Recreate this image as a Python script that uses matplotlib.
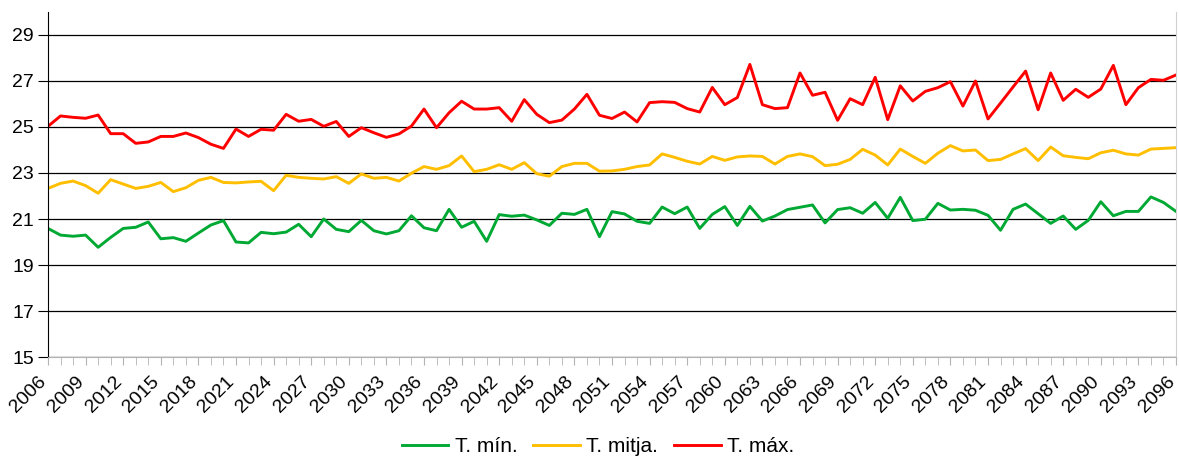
import matplotlib
matplotlib.use('Agg')
import matplotlib.pyplot as plt
import matplotlib.transforms as mtransforms
import numpy as np

plt.rcParams['font.family'] = ['Liberation Sans', 'DejaVu Sans']

# ---- data -------------------------------------------------------------
YEARS = list(range(2006, 2097))

T_MIN = [20.59, 20.30, 20.25, 20.30, 19.77, 20.20, 20.59, 20.64, 20.87, 20.14,
         20.19, 20.03, 20.39, 20.74, 20.93, 20.00, 19.96, 20.42, 20.36, 20.43,
         20.77, 20.23, 21.00, 20.55, 20.45, 20.94, 20.49, 20.35, 20.49, 21.14,
         20.62, 20.49, 21.42, 20.64, 20.90, 20.03, 21.19, 21.12, 21.17, 20.96,
         20.72, 21.25, 21.20, 21.42, 20.23, 21.32, 21.22, 20.90, 20.81, 21.52,
         21.23, 21.52, 20.59, 21.20, 21.54, 20.72, 21.55, 20.91, 21.13, 21.41,
         21.51, 21.61, 20.83, 21.41, 21.49, 21.25, 21.72, 21.03, 21.94, 20.93,
         20.99, 21.68, 21.39, 21.42, 21.38, 21.16, 20.51, 21.42, 21.65, 21.23,
         20.81, 21.13, 20.55, 20.94, 21.75, 21.14, 21.33, 21.33, 21.96, 21.72,
         21.33]

T_MITJA = [22.33, 22.55, 22.65, 22.45, 22.12, 22.71, 22.52, 22.33, 22.42, 22.59,
           22.19, 22.36, 22.68, 22.81, 22.59, 22.57, 22.61, 22.64, 22.23, 22.90,
           22.81, 22.77, 22.74, 22.84, 22.55, 22.96, 22.77, 22.81, 22.65, 22.99,
           23.28, 23.16, 23.32, 23.74, 23.06, 23.16, 23.36, 23.16, 23.45, 22.97,
           22.86, 23.28, 23.42, 23.42, 23.08, 23.09, 23.16, 23.28, 23.35, 23.83,
           23.68, 23.51, 23.39, 23.72, 23.55, 23.70, 23.74, 23.72, 23.39, 23.72,
           23.83, 23.71, 23.32, 23.38, 23.59, 24.03, 23.78, 23.35, 24.04, 23.72,
           23.42, 23.86, 24.19, 23.96, 24.00, 23.54, 23.59, 23.83, 24.06, 23.54,
           24.13, 23.75, 23.68, 23.62, 23.88, 23.99, 23.83, 23.78, 24.04, 24.07,
           24.10]

T_MAX = [25.03, 25.48, 25.42, 25.38, 25.52, 24.71, 24.71, 24.29, 24.35, 24.59,
         24.59, 24.74, 24.54, 24.25, 24.07, 24.91, 24.59, 24.90, 24.86, 25.55,
         25.25, 25.33, 25.03, 25.24, 24.59, 24.97, 24.75, 24.55, 24.70, 25.04,
         25.78, 24.97, 25.62, 26.12, 25.78, 25.78, 25.84, 25.25, 26.19, 25.55,
         25.19, 25.30, 25.78, 26.42, 25.51, 25.37, 25.65, 25.22, 26.06, 26.10,
         26.07, 25.80, 25.65, 26.72, 25.97, 26.28, 27.72, 25.97, 25.80, 25.84,
         27.35, 26.38, 26.51, 25.29, 26.23, 25.97, 27.16, 25.32, 26.79, 26.13,
         26.55, 26.71, 26.97, 25.91, 27.00, 25.35, 26.04, 26.74, 27.43, 25.75,
         27.35, 26.16, 26.64, 26.29, 26.65, 27.68, 25.97, 26.71, 27.07, 27.03,
         27.26]

SERIES = [
    ("T. mín.", T_MIN, '#00a933'),
    ("T. mitja.", T_MITJA, '#ffbf00'),
    ("T. máx.", T_MAX, '#ff0000'),
]

# ---- plot -------------------------------------------------------------
fig = plt.figure(figsize=(11.79, 4.57), dpi=100)
ax = fig.add_axes([48 / 1179, 1 - 357 / 457, 1128 / 1179, 345 / 457])

x = np.arange(len(YEARS))
for label, values, color in SERIES:
    ax.plot(x, values, color=color, linewidth=2.1, label=label)

ax.set_xlim(0, len(YEARS) - 1)
ax.set_ylim(15, 30)
ax.set_yticks(range(15, 30, 2))
ax.yaxis.grid(True, color='#000000', linewidth=0.9)
ax.set_axisbelow(True)

# year labels every 3 years, a minor tick for every year
ax.set_xticks(x[::3])
ax.set_xticklabels([str(y) for y in YEARS[::3]], rotation=45, ha='right',
                   va='center', rotation_mode='anchor', fontsize=14)
ax.set_xticks(x, minor=True)
ax.tick_params(axis='x', which='both', length=6, color='#b3b3b3', pad=10)
ax.tick_params(axis='y', length=7, labelsize=14, pad=3, color='#000000')

# nudge rotated labels a little left so the last one stays inside
shift = mtransforms.ScaledTranslation(-4 / 100, 0, fig.dpi_scale_trans)
for lbl in ax.get_xticklabels():
    lbl.set_transform(lbl.get_transform() + shift)

ax.spines['top'].set_visible(False)
ax.spines['right'].set_color('#d0d0d0')
ax.spines['left'].set_color('#000000')
ax.spines['bottom'].set_color('#b3b3b3')

fig.legend(loc='center', bbox_to_anchor=(0.507, 0.022), ncol=3, frameon=False,
           fontsize=15, handlelength=2.25, columnspacing=0.75,
           handletextpad=0.3)

fig.savefig('out.png', dpi=100)
